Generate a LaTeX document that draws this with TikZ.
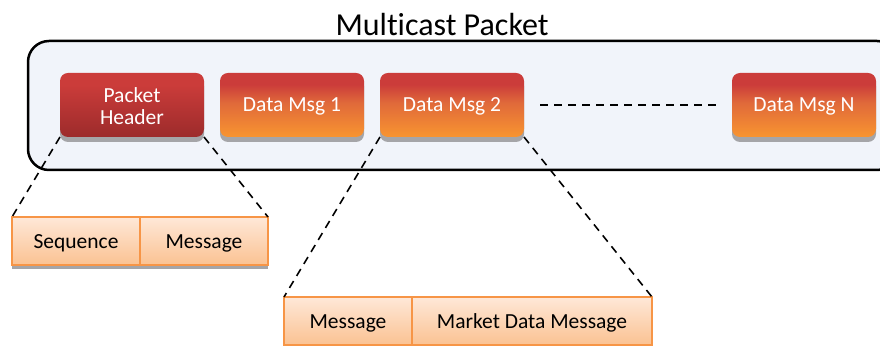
\documentclass[tikz,border=0pt]{standalone}
\usepackage{fontspec}
\setmainfont[Ligatures=NoCommon]{Carlito}
\usetikzlibrary{shadows}
\definecolor{panelfill}{HTML}{F1F4FA}
\definecolor{msgred}{HTML}{CB3C3A}
\definecolor{msgdark}{HTML}{9C2B2B}
\definecolor{msgorange}{HTML}{F89530}
\definecolor{midorange}{HTML}{E0693A}
\definecolor{fieldtop}{HTML}{FEE8D8}
\definecolor{fieldbot}{HTML}{FBC292}
\definecolor{fieldline}{HTML}{F79546}
\definecolor{shadowgray}{HTML}{A5A5A8}
\pgfdeclareverticalshading{datashade}{100bp}{color(0bp)=(msgorange); color(25bp)=(msgorange); color(52bp)=(midorange); color(66bp)=(msgred); color(75bp)=(msgred); color(100bp)=(msgred)}
\pgfdeclareverticalshading{headshade}{100bp}{color(0bp)=(msgdark); color(25bp)=(msgdark); color(66bp)=(msgred); color(75bp)=(msgred); color(100bp)=(msgred)}
\tikzset{
  msgbox/.style={rounded corners=8pt, minimum width=144pt, minimum height=64pt, inner sep=0pt, outer sep=0pt, anchor=north west,
    text=white, font=\fontsize{21.5}{22}\selectfont, align=center,
    general shadow={shadow xshift=0pt, shadow yshift=-5pt, fill=shadowgray}},
  datamsg/.style={msgbox, shading=datashade, text height=17pt, text depth=3.6pt},
  headmsg/.style={msgbox, shading=headshade, text height=40pt, text depth=0pt},
  fieldbox/.style={draw=fieldline, line width=2pt, top color=fieldtop, bottom color=fieldbot,
    minimum height=48pt, inner sep=0pt, outer sep=0pt, anchor=north west, text=black, font=\fontsize{21.5}{22}\selectfont,
    text height=19pt, text depth=3.6pt},
  shadowfield/.style={fieldbox, general shadow={shadow xshift=0pt, shadow yshift=-4pt, fill=shadowgray}},
  zoomline/.style={black, line width=1.6pt, dash pattern=on 8pt off 6pt},
  gapline/.style={black, line width=1.6pt, dash pattern=on 8pt off 6pt},
  panel/.style={draw=black, line width=2.5pt, fill=panelfill, rounded corners=21pt, inner sep=0pt, outer sep=0pt, anchor=north west,
    minimum width=870pt, minimum height=129pt},
  titletext/.style={font=\fontsize{32}{36}\selectfont, text=black, inner sep=0pt}
}
\begin{document}
\begin{tikzpicture}[x=1pt,y=1pt]
\useasboundingbox (0,0) rectangle (880,347);
\clip (0,0) rectangle (880,347);
\node[titletext] (title) at (442,322) {Multicast Packet};
\node[panel] (outer) at (28,306) {};
\node[headmsg] (head) at (60,274) {Packet\\Header};
\node[datamsg] (m1) at (220,274) {Data Msg 1};
\node[datamsg] (m2) at (380,274) {Data Msg 2};
\node[datamsg] (mn) at (732,274) {Data Msg N};
\node[shadowfield, minimum width=128pt] (seq) at (12,130) {Sequence};
\node[shadowfield, minimum width=128pt] (hmsg) at (140,130) {Message};
\node[fieldbox, minimum width=128pt] (dmsg) at (284,50) {Message};
\node[fieldbox, minimum width=240pt] (mkt) at (412,50) {Market Data Message};
\coordinate (gapa) at (540,242);
\coordinate (gapb) at (716,242);
\draw[gapline] (gapa) -- (gapb);
\draw[zoomline] (head.south west) -- (seq.north west);
\draw[zoomline] (head.south east) -- (hmsg.north east);
\draw[zoomline] (m2.south west) -- (dmsg.north west);
\draw[zoomline] (m2.south east) -- (mkt.north east);
\end{tikzpicture}
\end{document}
